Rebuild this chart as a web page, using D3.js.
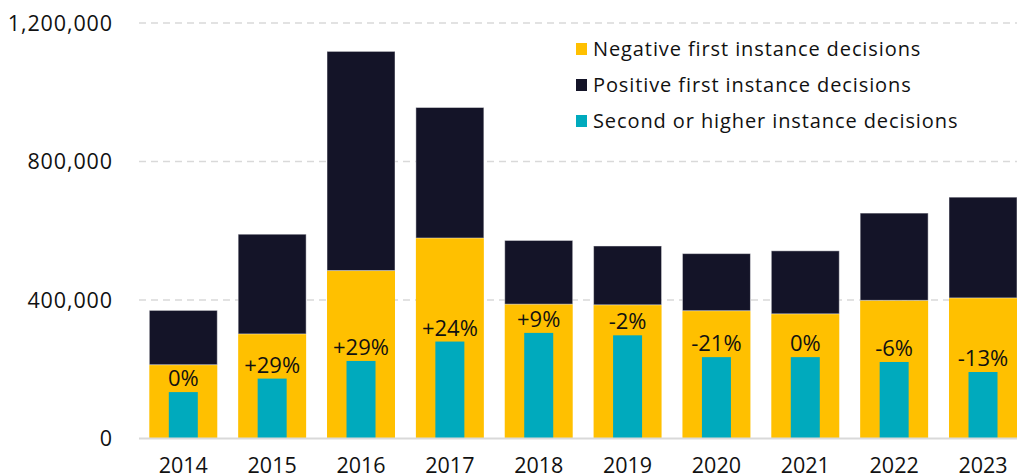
<!DOCTYPE html>
<html>
<head>
<meta charset="utf-8">
<script src="https://cdn.jsdelivr.net/npm/d3@7"></script>
<style>
  html, body { margin: 0; padding: 0; background: #fff; }
  svg { display: block; font-family: "Open Sans", "Noto Sans", sans-serif; }
</style>
</head>
<body>
<svg id="chart" width="1017" height="474"></svg>
<script>
const years = ["2014", "2015", "2016", "2017", "2018", "2019", "2020", "2021", "2022", "2023"];
const negative = [213000, 302000, 485000, 579000, 388000, 386000, 369000, 360000, 399000, 406000];
const positive = [157000, 288000, 633000, 377000, 184000, 170000, 165000, 182000, 252000, 291000];
const secondInstance = [134000, 173000, 224000, 280000, 305000, 298000, 235000, 235000, 221000, 192000];
const changeLabels = ["0%", "+29%", "+29%", "+24%", "+9%", "-2%", "-21%", "0%", "-6%", "-13%"];
const yTicks = [0, 400000, 800000, 1200000];
const legendItems = [
  { label: "Negative first instance decisions", color: "#FFC000" },
  { label: "Positive first instance decisions", color: "#141428" },
  { label: "Second or higher instance decisions", color: "#00AABD" }
];

const svg = d3.select("#chart");
const plotLeft = 139, plotRight = 1027.3, plotTop = 23, plotBottom = 438.5;

// last bar runs off the right edge, as in the original
const x = d3.scaleBand().domain(years).range([plotLeft, plotRight])
  .paddingInner(0.235).paddingOuter(0.116);
const y = d3.scaleLinear().domain([0, 1200000]).range([plotBottom, plotTop]);

// gridlines
svg.append("g").selectAll("line")
  .data(yTicks.filter(d => d > 0))
  .join("line")
  .attr("x1", plotLeft).attr("x2", 1017)
  .attr("y1", d => y(d)).attr("y2", d => y(d))
  .attr("stroke", "#d9d9d9").attr("stroke-width", 1.5)
  .attr("stroke-dasharray", "7,5");

// y labels
svg.append("g").selectAll("text")
  .data(yTicks)
  .join("text")
  .attr("x", 113).attr("y", d => y(d) + 7.5)
  .attr("text-anchor", "end")
  .attr("font-size", 21.5).attr("letter-spacing", 0.9).attr("fill", "#111")
  .text(d => d3.format(",")(d));

const bw = x.bandwidth();
const tealW = 29;

// negative (bottom)
svg.append("g").selectAll("rect")
  .data(years)
  .join("rect")
  .attr("x", d => x(d)).attr("width", bw)
  .attr("y", (d, i) => y(negative[i]))
  .attr("height", (d, i) => y(0) - y(negative[i]))
  .attr("fill", legendItems[0].color);

// positive (stacked)
svg.append("g").selectAll("rect")
  .data(years)
  .join("rect")
  .attr("x", d => x(d)).attr("width", bw)
  .attr("y", (d, i) => y(negative[i] + positive[i]))
  .attr("height", (d, i) => y(negative[i]) - y(negative[i] + positive[i]))
  .attr("fill", legendItems[1].color)
  .attr("stroke", "#fff").attr("stroke-opacity", 0.45).attr("stroke-width", 1);

// second instance (narrow overlay)
svg.append("g").selectAll("rect")
  .data(years)
  .join("rect")
  .attr("x", d => x(d) + bw / 2 - tealW / 2).attr("width", tealW)
  .attr("y", (d, i) => y(secondInstance[i]))
  .attr("height", (d, i) => y(0) - y(secondInstance[i]))
  .attr("fill", legendItems[2].color);

// change labels
svg.append("g").selectAll("text")
  .data(years)
  .join("text")
  .attr("x", d => x(d) + bw / 2)
  .attr("y", (d, i) => y(secondInstance[i]) - 6)
  .attr("text-anchor", "middle")
  .attr("font-size", 22).attr("fill", "#111")
  .text((d, i) => changeLabels[i]);

// baseline
svg.append("line")
  .attr("x1", plotLeft).attr("x2", 1017)
  .attr("y1", plotBottom).attr("y2", plotBottom)
  .attr("stroke", "#d9d9d9").attr("stroke-width", 2);

// x labels
svg.append("g").selectAll("text")
  .data(years)
  .join("text")
  .attr("x", d => x(d) + bw / 2).attr("y", 473)
  .attr("text-anchor", "middle")
  .attr("font-size", 21.5).attr("fill", "#111")
  .text(d => d);

// legend
const legend = svg.append("g").attr("transform", "translate(576,0)");
const rows = legend.selectAll("g").data(legendItems).join("g")
  .attr("transform", (d, i) => `translate(0,${49 + i * 36})`);
rows.append("rect")
  .attr("x", 0).attr("y", -6).attr("width", 11).attr("height", 12)
  .attr("fill", d => d.color);
rows.append("text")
  .attr("x", 17).attr("y", 7)
  .attr("font-size", 20).attr("letter-spacing", 0.9).attr("fill", "#111")
  .text(d => d.label);
</script>
</body>
</html>
